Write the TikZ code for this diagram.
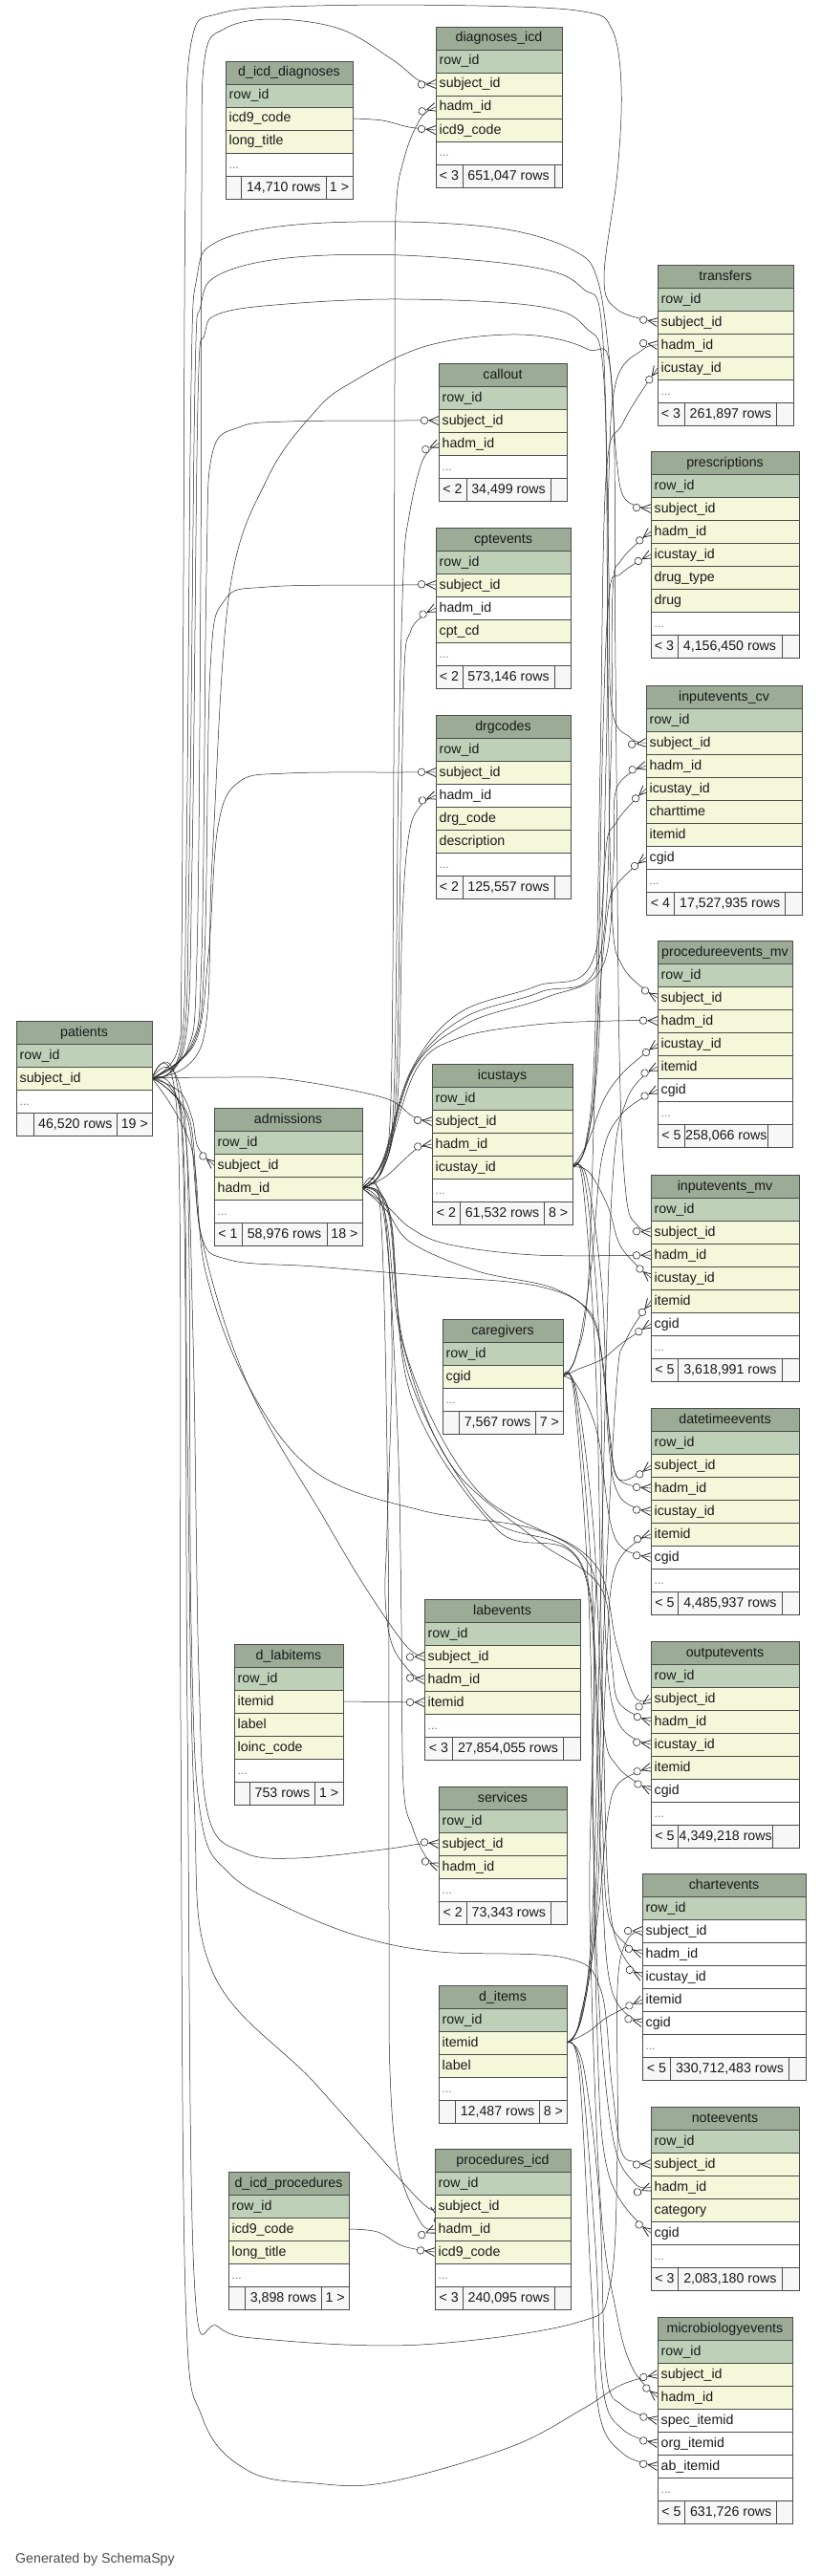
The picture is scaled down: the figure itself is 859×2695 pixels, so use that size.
\documentclass[tikz,border=0pt]{standalone}
\usepackage{fontspec}
\setmainfont{Liberation Sans}
\usetikzlibrary{arrows.meta}
\definecolor{hdrc}{HTML}{9BAB96}
\definecolor{pk}{HTML}{BED1B8}
\definecolor{ix}{HTML}{F4F7DA}
\definecolor{wh}{HTML}{FFFFFF}
\definecolor{dd}{HTML}{FFFFFF}
\definecolor{cfoot}{HTML}{F7F7F7}
\pgfdeclarelayer{back}
\pgfdeclarelayer{edges}
\pgfsetlayers{back,edges,main}
\pgfdeclarearrow{
  name = crowodot,
  setup code = {
    \pgfarrowssettipend{0pt}
    \pgfarrowssetlineend{0pt}
    \pgfarrowssetbackend{-19pt}
    \pgfarrowssetvisualbackend{-19pt}
    \pgfarrowsupperhullpoint{0pt}{4.5pt}
    \pgfarrowsupperhullpoint{-19pt}{4pt}
  },
  drawing code = {
    \pgfsetlinewidth{0.8pt}
    \pgfpathmoveto{\pgfpoint{-10pt}{0pt}}\pgfpathlineto{\pgfpoint{0pt}{4.5pt}}
    \pgfpathmoveto{\pgfpoint{-10pt}{0pt}}\pgfpathlineto{\pgfpoint{0pt}{-4.5pt}}
    \pgfusepathqstroke
    \pgfsetlinewidth{0.6pt}
    \pgfsetfillcolor{white}
    \pgfpathcircle{\pgfpoint{-15pt}{0pt}}{3.8pt}
    \pgfusepathqfillstroke
  }
}
\newcommand\tabfont{\fontsize{14.2}{17}\selectfont}
\newcommand\dotsrow{\textcolor{black!55}{\fontsize{12}{14}\selectfont...}}
\newcommand\dbtable[6]{%
  \draw[cell, fill=hdrc] (#2,#4) rectangle (#3,#4+24);
  \node[txt, anchor=base] (#1) at ({(#2+#3)/2},#4+16) {#5};
  \foreach \rk/\rt/\rl [count=\ri] in {#6} {%
    \pgfmathsetmacro\yt{#4+24*\ri}
    \draw[cell, fill=\rt] (#2,\yt) rectangle (#3,\yt+24);
    \node[txt, anchor=base west] (#1-\rk) at (#2+3.5,\yt+16) {\rl};
    \coordinate (#1-\rk-w) at (#2,\yt+12);
    \coordinate (#1-\rk-e) at (#3,\yt+12);
  }%
}
\newcommand\dbfoot[9]{%
  \draw[cell, fill=cfoot] (#2,#6) rectangle (#3,#6+24);
  \draw[cell, fill=cfoot] (#3,#6) rectangle (#4,#6+24);
  \draw[cell, fill=cfoot] (#4,#6) rectangle (#5,#6+24);
  \node[txt, anchor=base] (#1-f1) at ({(#2+#3)/2},#6+16) {#7};
  \node[txt, anchor=base] (#1-f2) at ({(#3+#4)/2},#6+16) {#8};
  \node[txt, anchor=base] (#1-f3) at ({(#4+#5)/2},#6+16) {#9};
}
\newcommand\fk[1]{\draw[fk] plot[smooth, tension=0.6] coordinates {#1};}
\begin{document}
\begin{tikzpicture}[x=1pt,y=-1pt,
  txt/.style={font=\tabfont, inner sep=0pt, text=black!90},
  cell/.style={draw=black!70, line width=0.8pt},
  fk/.style={draw=black!85, line width=0.5pt, -{crowodot}}]
\begin{pgfonlayer}{back}
\path[use as bounding box, fill=white] (0,0) rectangle (859,2695);
\end{pgfonlayer}

% ---------------- tables ----------------
\dbtable{diag}{456}{588}{28}{diagnoses\_icd}{r/pk/row\_id, s/ix/subject\_id, h/ix/hadm\_id, c/ix/icd9\_code, x/dd/\dotsrow}
\dbfoot{diag}{456}{484}{580}{588}{172}{< 3}{651,047 rows}{}

\dbtable{dicd}{236}{369}{64}{d\_icd\_diagnoses}{r/pk/row\_id, c/ix/icd9\_code, l/ix/long\_title, x/dd/\dotsrow}
\dbfoot{dicd}{236}{252.5}{341}{369}{184}{}{14,710 rows}{1 >}

\dbtable{trans}{688}{830}{277}{transfers}{r/pk/row\_id, s/ix/subject\_id, h/ix/hadm\_id, u/ix/icustay\_id, x/dd/\dotsrow}
\dbfoot{trans}{688}{716}{812.7}{830}{421}{< 3}{261,897 rows}{}

\dbtable{callout}{459}{593}{380}{callout}{r/pk/row\_id, s/ix/subject\_id, h/ix/hadm\_id, x/dd/\dotsrow}
\dbfoot{callout}{459}{488}{576}{593}{500}{< 2}{34,499 rows}{}

\dbtable{presc}{681}{836}{472}{prescriptions}{r/pk/row\_id, s/ix/subject\_id, h/ix/hadm\_id, u/ix/icustay\_id, dt/ix/drug\_type, dg/ix/drug, x/dd/\dotsrow}
\dbfoot{presc}{681}{709}{818}{836}{664}{< 3}{4,156,450 rows}{}

\dbtable{cpt}{456}{597}{552}{cptevents}{r/pk/row\_id, s/ix/subject\_id, h/wh/hadm\_id, cc/ix/cpt\_cd, x/dd/\dotsrow}
\dbfoot{cpt}{456}{484}{580}{597}{696}{< 2}{573,146 rows}{}

\dbtable{icv}{676}{839}{717}{inputevents\_cv}{r/pk/row\_id, s/ix/subject\_id, h/ix/hadm\_id, u/ix/icustay\_id, ct/ix/charttime, it/ix/itemid, cg/wh/cgid, x/dd/\dotsrow}
\dbfoot{icv}{676}{705.7}{821.7}{839}{933}{< 4}{17,527,935 rows}{}

\dbtable{drg}{456}{597}{748}{drgcodes}{r/pk/row\_id, s/ix/subject\_id, h/wh/hadm\_id, dc/ix/drg\_code, de/ix/description, x/dd/\dotsrow}
\dbfoot{drg}{456}{484}{580}{597}{916}{< 2}{125,557 rows}{}

\dbtable{pmv}{688}{829}{984}{procedureevents\_mv}{r/pk/row\_id, s/ix/subject\_id, h/ix/hadm\_id, u/ix/icustay\_id, it/ix/itemid, cg/wh/cgid, x/dd/\dotsrow}
\dbfoot{pmv}{688}{716.7}{803}{829}{1176}{< 5}{258,066 rows}{}

\dbtable{pat}{17}{159}{1068}{patients}{r/pk/row\_id, s/ix/subject\_id, x/dd/\dotsrow}
\dbfoot{pat}{17}{35}{122.7}{159}{1164}{}{46,520 rows}{19 >}

\dbtable{icu}{452}{599}{1113}{icustays}{r/pk/row\_id, s/ix/subject\_id, h/ix/hadm\_id, u/ix/icustay\_id, x/dd/\dotsrow}
\dbfoot{icu}{452}{481.7}{569.3}{599}{1257}{< 2}{61,532 rows}{8 >}

\dbtable{adm}{224}{379}{1159}{admissions}{r/pk/row\_id, s/ix/subject\_id, h/ix/hadm\_id, x/dd/\dotsrow}
\dbfoot{adm}{224}{253}{342}{379}{1279}{< 1}{58,976 rows}{18 >}

\dbtable{imv}{681}{836}{1229}{inputevents\_mv}{r/pk/row\_id, s/ix/subject\_id, h/ix/hadm\_id, u/ix/icustay\_id, it/ix/itemid, cg/wh/cgid, x/dd/\dotsrow}
\dbfoot{imv}{681}{709.7}{818}{836}{1421}{< 5}{3,618,991 rows}{}

\dbtable{cg}{463}{589}{1380}{caregivers}{r/pk/row\_id, cg/ix/cgid, x/dd/\dotsrow}
\dbfoot{cg}{463}{480.3}{560.7}{589}{1476}{}{7,567 rows}{7 >}

\dbtable{dte}{681}{836}{1473}{datetimeevents}{r/pk/row\_id, s/ix/subject\_id, h/ix/hadm\_id, u/ix/icustay\_id, it/ix/itemid, cg/wh/cgid, x/dd/\dotsrow}
\dbfoot{dte}{681}{709.7}{818}{836}{1665}{< 5}{4,485,937 rows}{}

\dbtable{lab}{444}{607}{1673}{labevents}{r/pk/row\_id, s/ix/subject\_id, h/ix/hadm\_id, it/ix/itemid, x/dd/\dotsrow}
\dbfoot{lab}{444}{473.7}{589.3}{607}{1817}{< 3}{27,854,055 rows}{}

\dbtable{dlab}{245}{359}{1720}{d\_labitems}{r/pk/row\_id, it/ix/itemid, lb/ix/label, lo/ix/loinc\_code, x/dd/\dotsrow}
\dbfoot{dlab}{245}{261.7}{329.3}{359}{1864}{}{753 rows}{1 >}

\dbtable{out}{681}{836}{1717}{outputevents}{r/pk/row\_id, s/ix/subject\_id, h/ix/hadm\_id, u/ix/icustay\_id, it/ix/itemid, cg/wh/cgid, x/dd/\dotsrow}
\dbfoot{out}{681}{709.7}{808.7}{836}{1909}{< 5}{4,349,218 rows}{}

\dbtable{serv}{459}{593}{1869}{services}{r/pk/row\_id, s/ix/subject\_id, h/ix/hadm\_id, x/dd/\dotsrow}
\dbfoot{serv}{459}{488.3}{576.3}{593}{1989}{< 2}{73,343 rows}{}

\dbtable{chart}{672}{843}{1960}{chartevents}{r/pk/row\_id, s/wh/subject\_id, h/wh/hadm\_id, u/wh/icustay\_id, it/wh/itemid, cg/wh/cgid, x/dd/\dotsrow}
\dbfoot{chart}{672}{701.7}{825.3}{843}{2152}{< 5}{330,712,483 rows}{}

\dbtable{ditems}{459}{593}{2077}{d\_items}{r/pk/row\_id, it/ix/itemid, lb/ix/label, x/dd/\dotsrow}
\dbfoot{ditems}{459}{476.3}{564.7}{593}{2197}{}{12,487 rows}{8 >}

\dbtable{note}{681}{836}{2204}{noteevents}{r/pk/row\_id, s/ix/subject\_id, h/ix/hadm\_id, ca/ix/category, cg/wh/cgid, x/dd/\dotsrow}
\dbfoot{note}{681}{709.7}{818}{836}{2372}{< 3}{2,083,180 rows}{}

\dbtable{proc}{455}{597}{2248}{procedures\_icd}{r/pk/row\_id, s/ix/subject\_id, h/ix/hadm\_id, c/ix/icd9\_code, x/dd/\dotsrow}
\dbfoot{proc}{455}{484.3}{580.3}{597}{2392}{< 3}{240,095 rows}{}

\dbtable{dicp}{239}{365}{2272}{d\_icd\_procedures}{r/pk/row\_id, c/ix/icd9\_code, l/ix/long\_title, x/dd/\dotsrow}
\dbfoot{dicp}{239}{256.7}{336.3}{365}{2392}{}{3,898 rows}{1 >}

\dbtable{micro}{688}{829}{2424}{microbiologyevents}{r/pk/row\_id, s/ix/subject\_id, h/ix/hadm\_id, sp/wh/spec\_itemid, og/wh/org\_itemid, ab/wh/ab\_itemid, x/dd/\dotsrow}
\dbfoot{micro}{688}{716.7}{812.7}{829}{2616}{< 5}{631,726 rows}{}

\node[font=\tabfont, text=black!70, anchor=base west, inner sep=0pt] (gen) at (16,2681) {Generated by SchemaSpy};

% ---------------- connectors ----------------
\begin{pgfonlayer}{edges}
% patients.subject_id
\fk{(pat-s-e) (188,1142) (201,1170) (207,1200) (adm-s-w)}
\fk{(pat-s-e) (196,1098) (206,1000) (210,600) (211,200) (214,62) (235,30) (285,20) (355,30) (410,62) (438,84) (diag-s-w)}
\fk{(pat-s-e) (186,1098) (190,1000) (192,600) (194,200) (200,45) (230,14) (330,6) (500,6) (610,12) (640,30) (650,90) (646,180) (632,290) (646,324) (trans-s-w)}
\fk{(pat-s-e) (200,1093) (211,1000) (216,600) (222,475) (250,447) (300,441) (420,440) (callout-s-w)}
\fk{(pat-s-e) (202,1092) (214,1000) (220,700) (235,628) (280,614) (420,612) (cpt-s-w)}
\fk{(pat-s-e) (204,1091) (218,1000) (228,865) (250,818) (300,809) (420,808) (drg-s-w)}
\fk{(pat-s-e) (233,1127) (300,1129) (400,1148) (432,1168) (icu-s-w)}
\fk{(pat-s-e) (196,1170) (212,1300) (260,1450) (340,1590) (385,1665) (425,1722) (lab-s-w)}
\fk{(pat-s-e) (192,1172) (202,1400) (208,1750) (218,1900) (255,1938) (310,1944) (400,1935) (440,1929) (serv-s-w)}
\fk{(pat-s-e) (190,1175) (196,1500) (203,1880) (222,2062) (330,2180) (437,2300) (proc-s-w)}
\fk{(pat-s-e) (189,1096) (195,900) (200,400) (206,290) (225,254) (300,236) (420,232) (530,240) (600,262) (625,292) (638,380) (645,480) (654,522) (presc-s-w)}
\fk{(pat-s-e) (191,1095) (198,900) (204,400) (210,320) (228,288) (300,270) (420,267) (560,280) (610,302) (630,345) (637,600) (640,740) (660,772) (icv-s-w)}
\fk{(pat-s-e) (193,1094) (201,900) (207,420) (214,350) (230,328) (300,318) (420,313) (560,320) (612,342) (632,400) (636,700) (640,950) (652,1012) (pmv-s-w)}
\fk{(pat-s-e) (212,1090) (222,900) (240,620) (280,500) (330,430) (368,400) (446,362) (543,350) (614,365) (640,400) (644,700) (648,1100) (655,1250) (667,1282) (imv-s-w)}
\fk{(pat-s-e) (198,1170) (210,1290) (240,1318) (330,1325) (450,1335) (560,1345) (615,1370) (630,1420) (638,1500) (648,1548) (dte-s-w)}
\fk{(pat-s-e) (200,1200) (215,1330) (260,1450) (330,1540) (440,1580) (560,1600) (625,1640) (645,1720) (664,1775) (out-s-w)}
\fk{(pat-s-e) (190,1178) (196,1800) (203,2380) (228,2434) (287,2448) (440,2453) (603,2430) (638,2393) (646,2250) (646,2080) (656,2030) (chart-s-w)}
\fk{(pat-s-e) (194,1176) (200,1700) (210,1900) (240,1960) (303,1997) (380,2027) (460,2042) (590,2048) (628,2080) (640,2180) (650,2250) (666,2262) (note-s-w)}
\fk{(pat-s-e) (186,1180) (189,1800) (194,2400) (212,2530) (260,2585) (330,2598) (405,2597) (534,2560) (610,2520) (650,2495) (micro-s-w)}
% admissions.hadm_id
\fk{(adm-h-e) (398,1226) (409,1150) (412,800) (413,400) (414,225) (423,165) (440,124) (diag-h-w)}
\fk{(adm-h-e) (399,1225) (412,1150) (417,800) (422,600) (428,540) (442,482) (callout-h-w)}
\fk{(adm-h-e) (400,1224) (414,1150) (419,900) (423,700) (429,662) (440,646) (cpt-h-w)}
\fk{(adm-h-e) (401,1223) (416,1150) (421,960) (428,872) (440,843) (drg-h-w)}
\fk{(adm-h-e) (402,1232) (420,1216) (436,1202) (icu-h-w)}
\fk{(adm-h-e) (400,1262) (410,1400) (405,1600) (403,1670) (410,1720) (430,1750) (lab-h-w)}
\fk{(adm-h-e) (402,1264) (416,1500) (420,1700) (422,1867) (432,1913) (446,1943) (serv-h-w)}
\fk{(adm-h-e) (398,1266) (406,1600) (407,2000) (408,2167) (417,2267) (440,2325) (proc-h-w)}
\fk{(adm-h-e) (400,1215) (430,1120) (480,1060) (560,1032) (622,1000) (634,800) (637,500) (645,398) (672,366) (trans-h-w)}
\fk{(adm-h-e) (401,1214) (432,1118) (485,1065) (565,1038) (626,1006) (639,800) (641,620) (650,586) (presc-h-w)}
\fk{(adm-h-e) (402,1213) (434,1116) (490,1070) (570,1044) (630,1012) (642,900) (645,825) (icv-h-w)}
\fk{(adm-h-e) (403,1212) (436,1118) (480,1086) (560,1072) (640,1068) (pmv-h-w)}
\fk{(adm-h-e) (405,1262) (430,1285) (470,1302) (560,1313) (imv-h-w)}
\fk{(adm-h-e) (404,1266) (430,1300) (500,1330) (580,1348) (620,1380) (633,1450) (640,1525) (650,1550) (dte-h-w)}
\fk{(adm-h-e) (403,1270) (420,1400) (470,1530) (560,1610) (628,1660) (640,1740) (648,1782) (out-h-w)}
\fk{(adm-h-e) (406,1268) (426,1420) (500,1560) (612,1630) (622,1720) (630,1900) (638,2010) (chart-h-w)}
\fk{(adm-h-e) (407,1268) (428,1440) (510,1585) (612,1645) (620,1900) (627,2100) (642,2240) (664,2284) (note-h-w)}
\fk{(adm-h-e) (408,1270) (430,1460) (520,1600) (614,1655) (617,2000) (628,2300) (645,2420) (662,2478) (micro-h-w)}
% icustays.icustay_id
\fk{(icu-u-e) (612,1200) (622,1100) (628,800) (634,500) (652,442) (trans-u-w)}
\fk{(icu-u-e) (613,1198) (624,1100) (630,800) (637,625) (650,600) (presc-u-w)}
\fk{(icu-u-e) (614,1196) (626,1100) (633,900) (645,860) (icv-u-w)}
\fk{(icu-u-e) (615,1195) (632,1150) (654,1120) (pmv-u-w)}
\fk{(icu-u-e) (616,1226) (636,1262) (650,1305) (imv-u-w)}
\fk{(icu-u-e) (614,1232) (630,1350) (636,1500) (648,1565) (dte-u-w)}
\fk{(icu-u-e) (612,1236) (627,1400) (633,1700) (646,1800) (out-u-w)}
\fk{(icu-u-e) (610,1240) (624,1450) (631,1800) (640,2010) (chart-u-w)}
% caregivers.cgid
\fk{(cg-cg-e) (602,1420) (615,1350) (624,1100) (635,960) (646,925) (icv-cg-w)}
\fk{(cg-cg-e) (603,1418) (618,1330) (630,1210) (651,1165) (pmv-cg-w)}
\fk{(cg-cg-e) (606,1432) (630,1422) (651,1405) (imv-cg-w)}
\fk{(cg-cg-e) (604,1450) (625,1500) (638,1590) (652,1620) (dte-cg-w)}
\fk{(cg-cg-e) (603,1455) (621,1600) (631,1800) (646,1848) (out-cg-w)}
\fk{(cg-cg-e) (602,1458) (619,1650) (629,1950) (640,2082) (chart-cg-w)}
\fk{(cg-cg-e) (601,1462) (617,1700) (624,2100) (636,2272) (note-cg-w)}
% d_items.itemid
\fk{(ditems-it-e) (606,2115) (620,2000) (630,1600) (640,1250) (656,1150) (pmv-it-w)}
\fk{(ditems-it-e) (607,2113) (622,2000) (632,1700) (645,1450) (655,1402) (imv-it-w)}
\fk{(ditems-it-e) (608,2112) (624,2000) (634,1750) (644,1640) (dte-it-w)}
\fk{(ditems-it-e) (609,2110) (626,2000) (636,1900) (648,1865) (out-it-w)}
\fk{(ditems-it-e) (615,2126) (636,2110) (chart-it-w)}
\fk{(ditems-it-e) (610,2160) (627,2300) (634,2480) (652,2517) (micro-sp-w)}
\fk{(ditems-it-e) (608,2165) (623,2350) (631,2500) (652,2542) (micro-og-w)}
\fk{(ditems-it-e) (606,2168) (619,2400) (627,2525) (652,2567) (micro-ab-w)}
% dictionaries
\fk{(dicd-c-e) (400,126) (428,133) (diag-c-w)}
\draw[fk] (dlab-it-e) -- (lab-it-w);
\fk{(dicp-c-e) (395,2335) (422,2350) (proc-c-w)}
\end{pgfonlayer}
\end{tikzpicture}
\end{document}
